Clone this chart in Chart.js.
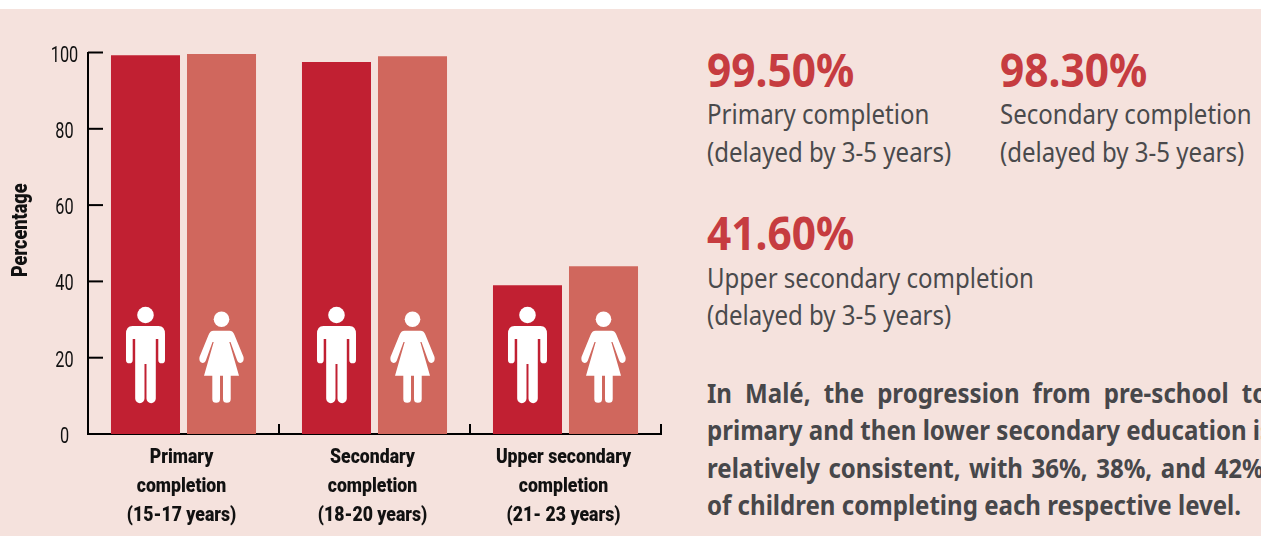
<!DOCTYPE html>
<html><head><meta charset="utf-8">
<script src="https://cdn.jsdelivr.net/npm/chart.js@4"></script>
<style>
html,body{margin:0;padding:0;background:#fff;overflow:hidden}
#panel{position:absolute;left:0;top:9px;width:1261px;height:527px;background:#f5e2dd;overflow:hidden}
#wrap{position:absolute;left:0;top:0;width:690px;height:527px}
.t{position:absolute;white-space:nowrap;font-family:"Noto Sans",sans-serif;transform-origin:0 50%}
.big{font-size:46px;font-weight:700;color:#c63c40;line-height:50px;transform:scaleX(.922)}
.sub{font-size:27px;font-weight:400;color:#4a4a4c;line-height:38px;transform:scaleX(.89)}
.par{font-size:26.5px;font-weight:700;color:#47474a;line-height:37px;transform:scaleX(.908)}
</style></head><body>
<div id="panel">
<div id="wrap"><canvas id="c" width="690" height="527"></canvas></div>
<div class="t big" style="left:707px;top:35px">99.50%</div>
<div class="t sub" style="left:707px;top:86px">Primary completion</div>
<div class="t sub" style="left:707px;top:124px">(delayed by 3-5 years)</div>
<div class="t big" style="left:1000px;top:35px">98.30%</div>
<div class="t sub" style="left:999.5px;top:86px">Secondary completion</div>
<div class="t sub" style="left:999.5px;top:124px">(delayed by 3-5 years)</div>
<div class="t big" style="left:707px;top:198px">41.60%</div>
<div class="t sub" style="left:707px;top:250px">Upper secondary completion</div>
<div class="t sub" style="left:707px;top:287px">(delayed by 3-5 years)</div>
<div class="t par" style="left:707px;top:366px;word-spacing:7.5px">In Malé, the progression from pre-school to</div>
<div class="t par" style="left:707px;top:403px">primary and then lower secondary education is</div>
<div class="t par" style="left:707px;top:441px;word-spacing:2.5px">relatively consistent, with 36%, 38%, and 42%</div>
<div class="t par" style="left:707px;top:478px">of children completing each respective level.</div>
</div>
<script>
const categories=[["Primary","completion","(15-17 years)"],["Secondary","completion","(18-20 years)"],["Upper secondary","completion","(21- 23 years)"]];
const maleValues=[99.3,97.5,39];
const femaleValues=[99.6,99,44];
const yTitle='Percentage';
const axisFont='Roboto,sans-serif';

function male(ctx,x,base){
  ctx.save();ctx.translate(x,base);ctx.fillStyle='#fff';
  ctx.beginPath();ctx.arc(0,-119,8.3,0,Math.PI*2);ctx.fill();
  ctx.beginPath();
  ctx.moveTo(-13,-108);ctx.lineTo(13,-108);ctx.quadraticCurveTo(19.5,-108,19.5,-100);
  ctx.lineTo(19.5,-74);ctx.arc(16.15,-74,3.35,0,Math.PI);
  ctx.lineTo(12.8,-95);ctx.lineTo(10.3,-95);ctx.lineTo(10.3,-35.5);
  ctx.arc(5.65,-35.5,4.65,0,Math.PI);
  ctx.lineTo(1,-70);ctx.lineTo(-1,-70);ctx.lineTo(-1,-35.5);
  ctx.arc(-5.65,-35.5,4.65,0,Math.PI);
  ctx.lineTo(-10.3,-95);ctx.lineTo(-12.8,-95);ctx.lineTo(-12.8,-74);
  ctx.arc(-16.15,-74,3.35,0,Math.PI);
  ctx.lineTo(-19.5,-100);ctx.quadraticCurveTo(-19.5,-108,-13,-108);
  ctx.closePath();ctx.fill();ctx.restore();
}
function female(ctx,x,base){
  ctx.save();ctx.translate(x,base);ctx.fillStyle='#fff';
  ctx.beginPath();ctx.arc(0,-114.7,7.8,0,Math.PI*2);ctx.fill();
  ctx.beginPath();
  ctx.moveTo(-8,-103.3);ctx.lineTo(8,-103.3);ctx.quadraticCurveTo(11.5,-103.3,13,-99);
  ctx.lineTo(22,-77);ctx.quadraticCurveTo(23,-72,19,-71);ctx.quadraticCurveTo(16.5,-71,15.5,-74);
  ctx.lineTo(9,-92);ctx.lineTo(7.8,-92);ctx.lineTo(17.5,-58.3);ctx.lineTo(9.2,-58.3);ctx.lineTo(9.2,-35);
  ctx.arc(5.35,-35,3.85,0,Math.PI);
  ctx.lineTo(1.5,-58.3);ctx.lineTo(-1.5,-58.3);ctx.lineTo(-1.5,-35);
  ctx.arc(-5.35,-35,3.85,0,Math.PI);
  ctx.lineTo(-9.2,-58.3);ctx.lineTo(-17.5,-58.3);ctx.lineTo(-7.8,-92);ctx.lineTo(-9,-92);
  ctx.lineTo(-15.5,-74);ctx.quadraticCurveTo(-16.5,-71,-19,-71);ctx.quadraticCurveTo(-23,-72,-22,-77);
  ctx.lineTo(-13,-99);ctx.quadraticCurveTo(-11.5,-103.3,-8,-103.3);
  ctx.closePath();ctx.fill();ctx.restore();
}
const decor={id:'decor',afterDatasetsDraw(chart){
  const {ctx,scales:{x,y}}=chart;
  const base=y.getPixelForValue(0);
  chart.getDatasetMeta(0).data.forEach(b=>male(ctx,b.x,base));
  chart.getDatasetMeta(1).data.forEach(b=>female(ctx,b.x,base));
  ctx.save();ctx.strokeStyle='#000';ctx.lineWidth=2;
  y.ticks.forEach(t=>{const p=y.getPixelForValue(t.value);ctx.beginPath();ctx.moveTo(x.left,p);ctx.lineTo(x.left+15,p);ctx.stroke();});
  const w=x.width/categories.length;
  categories.forEach((c,i)=>{const p=x.getPixelForValue(i)+w/2;ctx.beginPath();ctx.moveTo(p,base);ctx.lineTo(p,base-10);ctx.stroke();});
  ctx.restore();
}};
// The reference's axis type is condensed: draw axis text narrower along its own baseline.
const cv=document.getElementById('c');
const c2=cv.getContext('2d');
const rawFill=c2.fillText.bind(c2);
c2.fillText=function(s,x,y){
  const isTitle=s===yTitle;
  c2.save();c2.translate(x+(isTitle?13:0),y);c2.scale(isTitle?.82:(/^\d+$/.test(s)?.74:.84),1);
  rawFill(s,0,0);c2.restore();
};
new Chart(cv,{
  type:'bar',
  data:{labels:categories,datasets:[
    {label:'Male',data:maleValues,backgroundColor:'#c12032',categoryPercentage:.796,barPercentage:.908},
    {label:'Female',data:femaleValues,backgroundColor:'#d0675d',categoryPercentage:.796,barPercentage:.908}
  ]},
  plugins:[decor],
  options:{responsive:false,animation:false,
    layout:{padding:{top:43.5,right:29,left:0,bottom:0}},
    plugins:{legend:{display:false},tooltip:{enabled:false}},
    scales:{
      x:{afterFit(s){s.height=102},grid:{display:false},border:{display:true,color:'#000',width:2},
        ticks:{color:'#111',maxRotation:0,autoSkip:false,padding:1,labelOffset:-2,font:{family:axisFont,weight:'900',size:21,lineHeight:1.38}}},
      y:{min:0,max:100,afterFit(s){s.width=88},grid:{display:false,tickLength:0},border:{display:true,color:'#000',width:2},
        title:{display:true,text:yTitle,color:'#111',padding:{top:8,bottom:0},font:{family:axisFont,weight:'900',size:22}},
        ticks:{stepSize:20,color:'#111',padding:5,labelOffset:3.5,font:{family:axisFont,size:22},crossAlign:'center'}}
    }}
});
</script></body></html>
